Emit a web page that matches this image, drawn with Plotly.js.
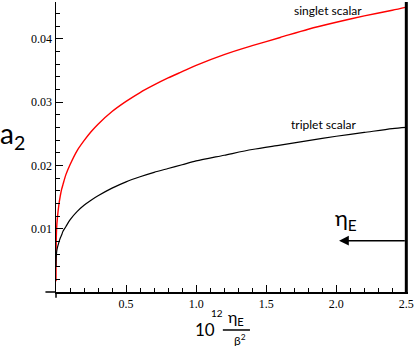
<!doctype html>
<html><head><meta charset="utf-8" />
<script src="https://cdn.plot.ly/plotly-3.0.1.min.js"></script>
<style>
  body { margin:0; background:#fff; }
  #chart { width:415px; height:346px; }
</style></head>
<body>
<div id="chart"></div>
<script>
// 10^12 eta_E / beta^2 (x) vs a_2
const etaX = [0, 0.0005, 0.002, 0.005, 0.01, 0.02, 0.03, 0.04, 0.05, 0.07, 0.1, 0.15, 0.2, 0.25,
  0.3, 0.4, 0.5, 0.6, 0.7, 0.8, 0.9, 1.0, 1.2, 1.4, 1.6, 1.8, 2.0, 2.2, 2.4, 2.5];
const singlet = [0.0017, 0.0058, 0.0085, 0.0103, 0.0117, 0.0137, 0.0151, 0.0162, 0.0170, 0.0185,
  0.0201, 0.0223, 0.0239, 0.0253, 0.0265, 0.0285, 0.0301, 0.0315, 0.0327, 0.0338, 0.0348,
  0.0358, 0.0375, 0.0389, 0.0402, 0.0415, 0.0426, 0.0436, 0.0445, 0.0450];
const triplet = [0.0040, 0.0048, 0.0056, 0.0064, 0.0070, 0.0078, 0.0085, 0.0090, 0.0096, 0.0103,
  0.0114, 0.0127, 0.0137, 0.0145, 0.0152, 0.0164, 0.0174, 0.0182, 0.0189, 0.0195, 0.0201,
  0.0207, 0.0216, 0.0225, 0.0232, 0.0239, 0.0246, 0.0252, 0.0258, 0.0260];
const xTicks = [0.5, 1.0, 1.5, 2.0, 2.5];
const yTicks = [0.01, 0.02, 0.03, 0.04];
const etaMax = 2.5;          // thick bound line
const arrowFrom = 2.5, arrowTo = 2.02, arrowY = 0.0081;

const SERIF = '"Liberation Serif", "Times New Roman", serif';
const SANS = 'Lato, "Open Sans", sans-serif';

const traces = [
  { x: etaX, y: singlet, type: 'scatter', mode: 'lines', name: 'singlet scalar',
    line: { color: '#ff0000', width: 1.4, shape: 'spline', smoothing: 0.8 } },
  { x: etaX, y: triplet, type: 'scatter', mode: 'lines', name: 'triplet scalar',
    line: { color: '#000000', width: 1.2, shape: 'spline', smoothing: 0.8 } },
];

const axisCommon = {
  showline: true, linecolor: '#000', linewidth: 1.5, showgrid: false, zeroline: false,
  ticks: 'inside', ticklen: 7, tickwidth: 1, tickcolor: '#000',
  tickfont: { family: SERIF, size: 12, color: '#000' },
};

const layout = {
  width: 415, height: 346,
  margin: { l: 56, r: 7, t: 2, b: 54 },
  paper_bgcolor: '#fff', plot_bgcolor: '#fff',
  showlegend: false,
  xaxis: { ...axisCommon, range: [0, 2.512], tickmode: 'array', tickvals: xTicks,
    ticktext: xTicks.map((v) => v.toFixed(1)),
    minor: { tickmode: 'linear', tick0: 0, dtick: 0.1, ticks: 'inside', ticklen: 4, tickcolor: '#000' } },
  yaxis: { ...axisCommon, range: [0, 0.0458], tickmode: 'array', tickvals: yTicks,
    ticktext: yTicks.map((v) => v.toFixed(2)),
    minor: { tickmode: 'linear', tick0: 0, dtick: 0.002, ticks: 'inside', ticklen: 4, tickcolor: '#000' } },
  shapes: [
    { type: 'line', xref: 'x', yref: 'paper', x0: etaMax, x1: etaMax, y0: 0, y1: 1,
      line: { color: '#000', width: 3 } },
    // axes cross past the origin
    { type: 'line', xref: 'paper', yref: 'paper', x0: -0.03, x1: 0, y0: 0, y1: 0,
      line: { color: '#000', width: 1.5 } },
    { type: 'line', xref: 'paper', yref: 'paper', x0: 0, x1: 0, y0: -0.02, y1: 0,
      line: { color: '#000', width: 1.5 } },
    // fraction bar of the x title
    { type: 'line', xref: 'paper', yref: 'paper', x0: 0.474, x1: 0.551, y0: -0.131, y1: -0.131,
      line: { color: '#000', width: 1.5 } },
  ],
  annotations: [
    { x: 1.94, y: 0.0445, xref: 'x', yref: 'y', text: 'singlet scalar', showarrow: false,
      font: { family: SANS, size: 12, color: '#000' } },
    { x: 1.91, y: 0.0264, xref: 'x', yref: 'y', text: 'triplet scalar', showarrow: false,
      font: { family: SANS, size: 12, color: '#000' } },
    { x: arrowTo, y: arrowY, ax: arrowFrom, ay: arrowY, axref: 'x', ayref: 'y', xref: 'x', yref: 'y',
      text: '', showarrow: true, arrowhead: 2, arrowsize: 1.3, arrowwidth: 1.5, arrowcolor: '#000' },
    { x: 2.07, y: 0.0115, xref: 'x', yref: 'y', text: 'η<sub>E</sub>', showarrow: false,
      font: { family: SANS, size: 22, color: '#000' } },
    { x: -0.125, y: 0.54, xref: 'paper', yref: 'paper', text: 'a<sub>2</sub>', showarrow: false,
      xanchor: 'center', yanchor: 'middle', font: { family: SANS, size: 28, color: '#000' } },
    // x title: 10^12 eta_E / beta^2
    { x: 0.423, y: -0.131, xref: 'paper', yref: 'paper', text: '10', showarrow: false,
      xanchor: 'center', yanchor: 'middle', font: { family: SANS, size: 17, color: '#000' } },
    { x: 0.458, y: -0.072, xref: 'paper', yref: 'paper', text: '12', showarrow: false,
      xanchor: 'center', yanchor: 'middle', font: { family: SANS, size: 10, color: '#000' } },
    { x: 0.511, y: -0.128, xref: 'paper', yref: 'paper', text: 'η<sub>E</sub>', showarrow: false,
      xanchor: 'center', yanchor: 'bottom', borderpad: 0, font: { family: SANS, size: 16, color: '#000' } },
    { x: 0.524, y: -0.134, xref: 'paper', yref: 'paper', text: 'β<sup>2</sup>', showarrow: false,
      xanchor: 'center', yanchor: 'top', borderpad: 0, font: { family: SANS, size: 12, color: '#000' } },
  ],
};

Plotly.newPlot('chart', traces, layout, { displayModeBar: false, staticPlot: true });
</script>
</body></html>
